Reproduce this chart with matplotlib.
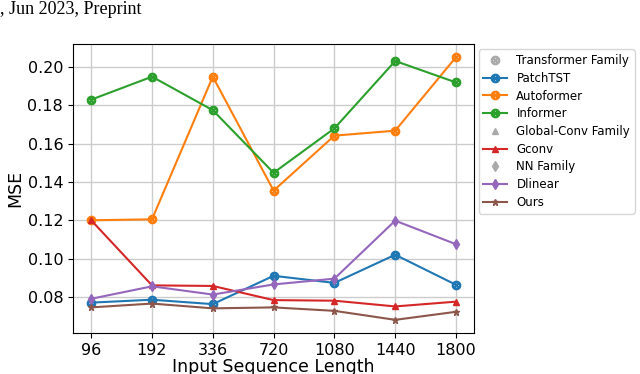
import numpy as np
import matplotlib
matplotlib.use('Agg')
import matplotlib.pyplot as plt
from matplotlib.lines import Line2D

seq_len = ['96', '192', '336', '720', '1080', '1440', '1800']

patchtst = [0.0770, 0.0785, 0.0762, 0.0910, 0.0873, 0.1020, 0.0863]
autoformer = [0.1200, 0.1205, 0.1950, 0.1355, 0.1642, 0.1668, 0.2052]
informer = [0.1830, 0.1950, 0.1775, 0.1448, 0.1680, 0.2032, 0.1920]
gconv = [0.1200, 0.0860, 0.0857, 0.0783, 0.0780, 0.0750, 0.0775]
dlinear = [0.0790, 0.0855, 0.0812, 0.0865, 0.0895, 0.1198, 0.1075]
ours = [0.0745, 0.0765, 0.0740, 0.0745, 0.0727, 0.0680, 0.0722]

x = np.arange(len(seq_len))
circ = r'$\otimes$'

fig = plt.figure(figsize=(6.4, 3.74), dpi=100)
ax = fig.add_axes([0.114, 0.110, 0.627, 0.772])

ax.plot(x, patchtst, marker=circ, ms=6, color='tab:blue', label='PatchTST')
ax.plot(x, autoformer, marker=circ, ms=6, color='tab:orange', label='Autoformer')
ax.plot(x, informer, marker=circ, ms=6, color='tab:green', label='Informer')
ax.plot(x, gconv, marker='^', ms=5, color='tab:red', label='Gconv')
ax.plot(x, dlinear, marker='d', ms=5, color='tab:purple', label='Dlinear')
ax.plot(x, ours, marker='*', ms=5, color='tab:brown', label='Ours')

ax.set_xticks(x)
ax.set_xticklabels(seq_len)
ax.set_xlim(-0.3, 6.3)
ax.set_ylim(0.0612, 0.212)
ax.set_yticks([0.08, 0.10, 0.12, 0.14, 0.16, 0.18, 0.20])
ax.grid(True, color='#cccccc', lw=1)
ax.set_axisbelow(True)
ax.tick_params(labelsize=11.5)
ax.set_xlabel('Input Sequence Length', fontsize=12.5, labelpad=0)
ax.set_ylabel('MSE', fontsize=12.5, labelpad=2)

# legend with family headers
h = {l.get_label(): l for l in ax.get_lines()}
def fam(m, ms):
    return Line2D([], [], ls='none', marker=m, ms=ms, color='#aaaaaa')
handles = [fam(circ, 6), h['PatchTST'], h['Autoformer'], h['Informer'],
           fam('^', 5), h['Gconv'], fam('d', 5), h['Dlinear'], h['Ours']]
labels = ['Transformer Family', 'PatchTST', 'Autoformer', 'Informer',
          'Global-Conv Family', 'Gconv', 'NN Family', 'Dlinear', 'Ours']
ax.legend(handles, labels, loc='upper left', bbox_to_anchor=(1.005, 0.99),
          fontsize=8.5, handlelength=2.0, borderaxespad=0.2, labelspacing=0.4)

fig.text(0.0, 0.998, ', Jun 2023, Preprint', family='Liberation Serif',
         fontsize=13, va='top', ha='left')

fig.savefig('out.png', dpi=100)
